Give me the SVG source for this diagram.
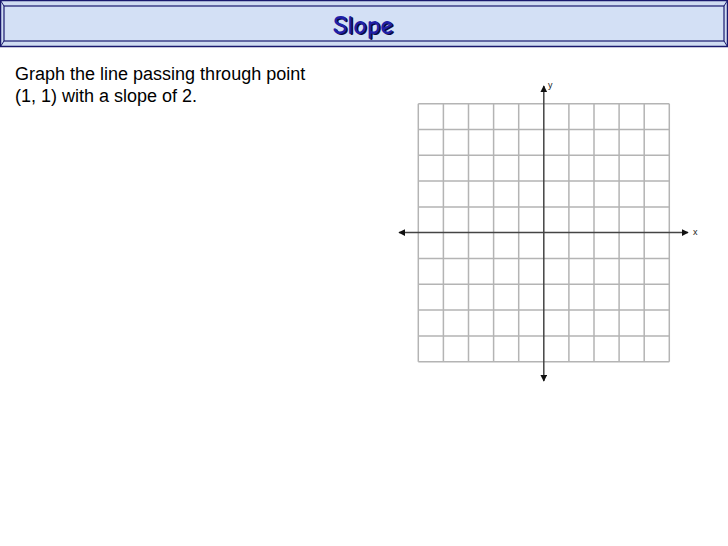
<svg xmlns="http://www.w3.org/2000/svg" width="728" height="546" viewBox="0 0 728 546">
<defs>
<style>
.grid{stroke:#b4b4b4;stroke-width:1.5;fill:none}
.axis{stroke:#444;stroke-width:1.5;fill:none}
.lbl{font-family:"Liberation Sans",Arial,sans-serif;font-size:9px;fill:#222}
.body{font-family:"Liberation Sans",Arial,sans-serif;font-size:18px;fill:#000}
.ttl{font-family:"Comic Neue","Liberation Sans",sans-serif;font-size:26px;font-weight:bold}
</style>
<marker id="ah" viewBox="0 0 10 10" refX="9" refY="5" markerWidth="7" markerHeight="7" markerUnits="userSpaceOnUse" orient="auto-start-reverse">
<path d="M0,0 L10,5 L0,10 Z" fill="#111"/>
</marker>
</defs>
<rect width="728" height="546" fill="#fff"/>
<g id="banner">
<rect x="0.5" y="0.5" width="727" height="46" fill="#cfdcf2" stroke="#1a1a6e" stroke-width="1.5"/>
<rect x="4" y="6" width="720" height="35" fill="#d3e0f5" stroke="#1a1a6e" stroke-width="1.2"/>
<path d="M0.5,0.5 L4,6 M727.5,0.5 L724,6 M0.5,46.5 L4,41 M727.5,46.5 L724,41" stroke="#1a1a6e" stroke-width="1"/>
<text x="364.5" y="35" text-anchor="middle" class="ttl" fill="#0a0a40">Slope</text>
<text x="363" y="33.5" text-anchor="middle" class="ttl" fill="#1f1fa8">Slope</text>
</g>
<g id="prompt">
<text x="15" y="80" class="body">Graph the line passing through point</text>
<text x="15" y="102" class="body">(1, 1) with a slope of 2.</text>
</g>
<g id="grid">
<path class="grid" d="M418.3,103.7V361.7M443.4,103.7V361.7M468.5,103.7V361.7M493.6,103.7V361.7M518.7,103.7V361.7M568.9,103.7V361.7M594,103.7V361.7M619.1,103.7V361.7M644.2,103.7V361.7M669.3,103.7V361.7"/>
<path class="grid" d="M418.3,103.7H669.3M418.3,129.5H669.3M418.3,155.3H669.3M418.3,181.1H669.3M418.3,206.9H669.3M418.3,258.5H669.3M418.3,284.3H669.3M418.3,310.1H669.3M418.3,335.9H669.3M418.3,361.7H669.3"/>
</g>
<g id="connectors">
<line class="axis" x1="543.8" y1="86" x2="543.8" y2="381" marker-start="url(#ah)" marker-end="url(#ah)"/>
<line class="axis" x1="399" y1="232.6" x2="688" y2="232.6" marker-start="url(#ah)" marker-end="url(#ah)"/>
</g>
<g id="labels">
<text x="548" y="88" class="lbl">y</text>
<text x="693" y="235" class="lbl">x</text>
</g>
</svg>
